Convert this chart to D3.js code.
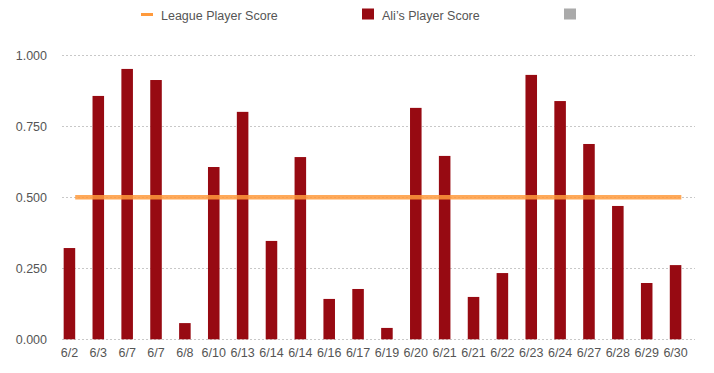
<html lang="en">
<head>
    <meta charset="UTF-8">
    <title>Player Score</title>
    <style>
        body { margin: 0; background: #fff; }
        text { font-family: "Liberation Sans", Arial, Helvetica, sans-serif; fill: #555; font-size: 12.5px; }
        .grid line { stroke: #c8c8c8; stroke-dasharray: 2,2; }
    </style>
</head>
<body>
    <svg width="714" height="373"></svg>

    <script src="https://d3js.org/d3.v7.min.js"></script>
    <script>
        (function () {
            'use strict';

            var dates = ["6/2", "6/3", "6/7", "6/7", "6/8", "6/10", "6/13", "6/14", "6/14", "6/16", "6/17",
                "6/19", "6/20", "6/21", "6/21", "6/22", "6/23", "6/24", "6/27", "6/28", "6/29", "6/30"];
            var aliScore = [0.321, 0.856, 0.951, 0.912, 0.057, 0.606, 0.800, 0.346, 0.641, 0.142, 0.177,
                0.040, 0.814, 0.645, 0.149, 0.233, 0.930, 0.838, 0.687, 0.469, 0.198, 0.261];
            var leagueScore = [0.5, 0.5, 0.5, 0.5, 0.5, 0.5, 0.5, 0.5, 0.5, 0.5, 0.5,
                0.5, 0.5, 0.5, 0.5, 0.5, 0.5, 0.5, 0.5, 0.5, 0.5, 0.5];
            var yTicks = [0, 0.25, 0.5, 0.75, 1];

            var BAR_COLOR = "#970a12";
            var LINE_COLOR = "#ff9a3c";

            var svg = d3.select("svg");
            var idx = d3.range(dates.length);

            // dates repeat, so the band scale runs on the index
            var x = d3.scaleBand()
                .domain(idx)
                .range([55, 690])
                .paddingInner(0.6)
                .paddingOuter(0.3);

            var y = d3.scaleLinear()
                .domain([0, 1])
                .range([339.3, 55]);

            // grid lines
            var grid = svg.append("g").attr("class", "grid");
            grid.selectAll("line")
                .data(yTicks)
                .enter().append("line")
                .attr("x1", 62).attr("x2", 695)
                .attr("y1", function (d) { return Math.round(y(d)) + 0.5; })
                .attr("y2", function (d) { return Math.round(y(d)) + 0.5; });

            // y axis labels
            var yAxis = d3.axisLeft(y).tickValues(yTicks).tickFormat(d3.format(".3f")).tickSize(0).tickPadding(0);
            svg.append("g")
                .attr("transform", "translate(47,0)")
                .call(yAxis)
                .call(function (g) { g.select(".domain").remove(); })
                .selectAll("text").style("font-size", "12.5px").attr("fill", "#555");

            // bars
            svg.append("g").selectAll("rect")
                .data(aliScore)
                .enter().append("rect")
                .attr("x", function (d, i) { return x(i); })
                .attr("width", x.bandwidth())
                .attr("y", function (d) { return y(d); })
                .attr("height", function (d) { return y(0) - y(d); })
                .attr("fill", BAR_COLOR);

            // league line
            var line = d3.line()
                .x(function (d, i) { return x(i) + x.bandwidth(); })
                .y(function (d) { return y(d); });
            svg.append("path")
                .datum(leagueScore)
                .attr("d", line)
                .attr("fill", "none")
                .attr("stroke", LINE_COLOR)
                .attr("stroke-opacity", 0.85)
                .attr("stroke-width", 4.5);

            // x axis labels
            var xAxis = d3.axisBottom(x).tickFormat(function (i) { return dates[i]; }).tickSize(0).tickPadding(0);
            svg.append("g")
                .attr("transform", "translate(0,348)")
                .call(xAxis)
                .call(function (g) { g.select(".domain").remove(); })
                .selectAll("text").style("font-size", "12.5px").attr("fill", "#555");

            // legend
            var legend = svg.append("g");
            legend.append("line")
                .attr("x1", 141).attr("x2", 153).attr("y1", 14.5).attr("y2", 14.5)
                .attr("stroke", LINE_COLOR).attr("stroke-width", 3);
            legend.append("text").attr("x", 161).attr("y", 20).text("League Player Score");
            legend.append("rect")
                .attr("x", 362).attr("y", 8.5).attr("width", 12).attr("height", 11)
                .attr("fill", BAR_COLOR);
            legend.append("text").attr("x", 382).attr("y", 20).text("Ali\u2019s Player Score");
            legend.append("rect")
                .attr("x", 564).attr("y", 8.5).attr("width", 12).attr("height", 11)
                .attr("fill", "#aaaaaa");
        })();
    </script>
</body>
</html>
